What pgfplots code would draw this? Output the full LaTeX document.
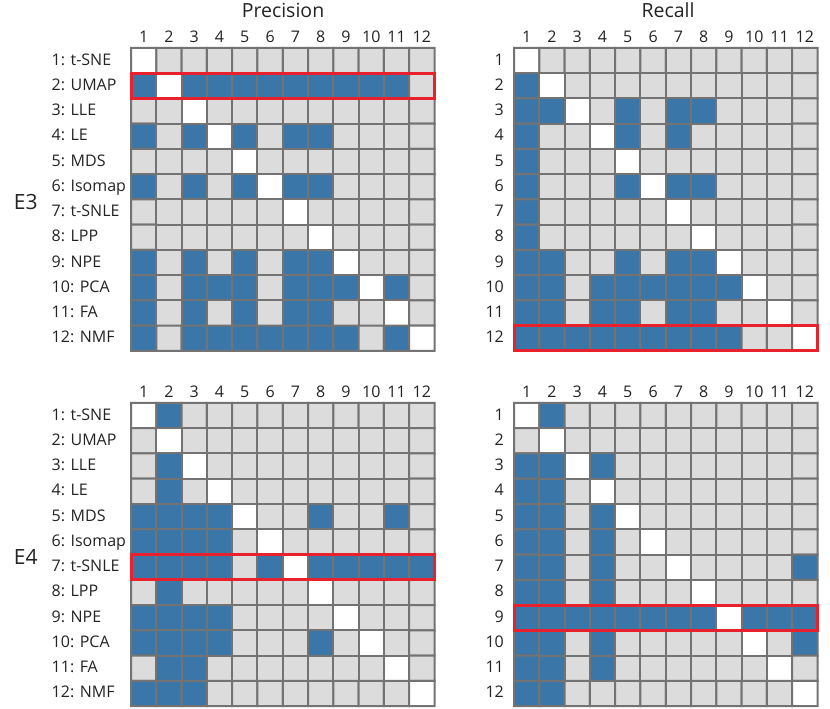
\documentclass[border=0pt]{standalone}
\usepackage{fontspec}
\setmainfont{Open Sans}
\usepackage{pgfplots}
\usepackage{pgfplotstable}
\pgfplotsset{compat=1.18}
\definecolor{cellblue}{RGB}{59,118,168}
\definecolor{cellgray}{RGB}{220,220,220}
\definecolor{edgegray}{RGB}{115,115,115}
\definecolor{boxred}{RGB}{232,33,44}
\definecolor{txt}{RGB}{35,35,35}

\pgfplotstableread[row sep=\\]{
x y c\\
1 1 2\\ 2 1 0\\ 3 1 0\\ 4 1 0\\ 5 1 0\\ 6 1 0\\ 7 1 0\\ 8 1 0\\ 9 1 0\\ 10 1 0\\ 11 1 0\\ 12 1 0\\
1 2 1\\ 2 2 2\\ 3 2 1\\ 4 2 1\\ 5 2 1\\ 6 2 1\\ 7 2 1\\ 8 2 1\\ 9 2 1\\ 10 2 1\\ 11 2 1\\ 12 2 0\\
1 3 0\\ 2 3 0\\ 3 3 2\\ 4 3 0\\ 5 3 0\\ 6 3 0\\ 7 3 0\\ 8 3 0\\ 9 3 0\\ 10 3 0\\ 11 3 0\\ 12 3 0\\
1 4 1\\ 2 4 0\\ 3 4 1\\ 4 4 2\\ 5 4 1\\ 6 4 0\\ 7 4 1\\ 8 4 1\\ 9 4 0\\ 10 4 0\\ 11 4 0\\ 12 4 0\\
1 5 0\\ 2 5 0\\ 3 5 0\\ 4 5 0\\ 5 5 2\\ 6 5 0\\ 7 5 0\\ 8 5 0\\ 9 5 0\\ 10 5 0\\ 11 5 0\\ 12 5 0\\
1 6 1\\ 2 6 0\\ 3 6 1\\ 4 6 0\\ 5 6 1\\ 6 6 2\\ 7 6 1\\ 8 6 1\\ 9 6 0\\ 10 6 0\\ 11 6 0\\ 12 6 0\\
1 7 0\\ 2 7 0\\ 3 7 0\\ 4 7 0\\ 5 7 0\\ 6 7 0\\ 7 7 2\\ 8 7 0\\ 9 7 0\\ 10 7 0\\ 11 7 0\\ 12 7 0\\
1 8 0\\ 2 8 0\\ 3 8 0\\ 4 8 0\\ 5 8 0\\ 6 8 0\\ 7 8 0\\ 8 8 2\\ 9 8 0\\ 10 8 0\\ 11 8 0\\ 12 8 0\\
1 9 1\\ 2 9 0\\ 3 9 1\\ 4 9 0\\ 5 9 1\\ 6 9 0\\ 7 9 1\\ 8 9 1\\ 9 9 2\\ 10 9 0\\ 11 9 0\\ 12 9 0\\
1 10 1\\ 2 10 0\\ 3 10 1\\ 4 10 1\\ 5 10 1\\ 6 10 0\\ 7 10 1\\ 8 10 1\\ 9 10 1\\ 10 10 2\\ 11 10 1\\ 12 10 0\\
1 11 1\\ 2 11 0\\ 3 11 1\\ 4 11 0\\ 5 11 1\\ 6 11 0\\ 7 11 1\\ 8 11 1\\ 9 11 0\\ 10 11 0\\ 11 11 2\\ 12 11 0\\
1 12 1\\ 2 12 0\\ 3 12 1\\ 4 12 1\\ 5 12 1\\ 6 12 1\\ 7 12 1\\ 8 12 1\\ 9 12 1\\ 10 12 0\\ 11 12 1\\ 12 12 2\\
}\tA

\pgfplotstableread[row sep=\\]{
x y c\\
1 1 2\\ 2 1 0\\ 3 1 0\\ 4 1 0\\ 5 1 0\\ 6 1 0\\ 7 1 0\\ 8 1 0\\ 9 1 0\\ 10 1 0\\ 11 1 0\\ 12 1 0\\
1 2 1\\ 2 2 2\\ 3 2 0\\ 4 2 0\\ 5 2 0\\ 6 2 0\\ 7 2 0\\ 8 2 0\\ 9 2 0\\ 10 2 0\\ 11 2 0\\ 12 2 0\\
1 3 1\\ 2 3 1\\ 3 3 2\\ 4 3 0\\ 5 3 1\\ 6 3 0\\ 7 3 1\\ 8 3 1\\ 9 3 0\\ 10 3 0\\ 11 3 0\\ 12 3 0\\
1 4 1\\ 2 4 0\\ 3 4 0\\ 4 4 2\\ 5 4 1\\ 6 4 0\\ 7 4 1\\ 8 4 0\\ 9 4 0\\ 10 4 0\\ 11 4 0\\ 12 4 0\\
1 5 1\\ 2 5 0\\ 3 5 0\\ 4 5 0\\ 5 5 2\\ 6 5 0\\ 7 5 0\\ 8 5 0\\ 9 5 0\\ 10 5 0\\ 11 5 0\\ 12 5 0\\
1 6 1\\ 2 6 0\\ 3 6 0\\ 4 6 0\\ 5 6 1\\ 6 6 2\\ 7 6 1\\ 8 6 1\\ 9 6 0\\ 10 6 0\\ 11 6 0\\ 12 6 0\\
1 7 1\\ 2 7 0\\ 3 7 0\\ 4 7 0\\ 5 7 0\\ 6 7 0\\ 7 7 2\\ 8 7 0\\ 9 7 0\\ 10 7 0\\ 11 7 0\\ 12 7 0\\
1 8 1\\ 2 8 0\\ 3 8 0\\ 4 8 0\\ 5 8 0\\ 6 8 0\\ 7 8 0\\ 8 8 2\\ 9 8 0\\ 10 8 0\\ 11 8 0\\ 12 8 0\\
1 9 1\\ 2 9 1\\ 3 9 0\\ 4 9 0\\ 5 9 1\\ 6 9 0\\ 7 9 1\\ 8 9 1\\ 9 9 2\\ 10 9 0\\ 11 9 0\\ 12 9 0\\
1 10 1\\ 2 10 1\\ 3 10 0\\ 4 10 1\\ 5 10 1\\ 6 10 1\\ 7 10 1\\ 8 10 1\\ 9 10 1\\ 10 10 2\\ 11 10 0\\ 12 10 0\\
1 11 1\\ 2 11 1\\ 3 11 0\\ 4 11 1\\ 5 11 1\\ 6 11 0\\ 7 11 1\\ 8 11 1\\ 9 11 0\\ 10 11 0\\ 11 11 2\\ 12 11 0\\
1 12 1\\ 2 12 1\\ 3 12 1\\ 4 12 1\\ 5 12 1\\ 6 12 1\\ 7 12 1\\ 8 12 1\\ 9 12 1\\ 10 12 0\\ 11 12 0\\ 12 12 2\\
}\tB

\pgfplotstableread[row sep=\\]{
x y c\\
1 1 2\\ 2 1 1\\ 3 1 0\\ 4 1 0\\ 5 1 0\\ 6 1 0\\ 7 1 0\\ 8 1 0\\ 9 1 0\\ 10 1 0\\ 11 1 0\\ 12 1 0\\
1 2 0\\ 2 2 2\\ 3 2 0\\ 4 2 0\\ 5 2 0\\ 6 2 0\\ 7 2 0\\ 8 2 0\\ 9 2 0\\ 10 2 0\\ 11 2 0\\ 12 2 0\\
1 3 0\\ 2 3 1\\ 3 3 2\\ 4 3 0\\ 5 3 0\\ 6 3 0\\ 7 3 0\\ 8 3 0\\ 9 3 0\\ 10 3 0\\ 11 3 0\\ 12 3 0\\
1 4 0\\ 2 4 1\\ 3 4 0\\ 4 4 2\\ 5 4 0\\ 6 4 0\\ 7 4 0\\ 8 4 0\\ 9 4 0\\ 10 4 0\\ 11 4 0\\ 12 4 0\\
1 5 1\\ 2 5 1\\ 3 5 1\\ 4 5 1\\ 5 5 2\\ 6 5 0\\ 7 5 0\\ 8 5 1\\ 9 5 0\\ 10 5 0\\ 11 5 1\\ 12 5 0\\
1 6 1\\ 2 6 1\\ 3 6 1\\ 4 6 1\\ 5 6 0\\ 6 6 2\\ 7 6 0\\ 8 6 0\\ 9 6 0\\ 10 6 0\\ 11 6 0\\ 12 6 0\\
1 7 1\\ 2 7 1\\ 3 7 1\\ 4 7 1\\ 5 7 0\\ 6 7 1\\ 7 7 2\\ 8 7 1\\ 9 7 1\\ 10 7 1\\ 11 7 1\\ 12 7 1\\
1 8 0\\ 2 8 1\\ 3 8 0\\ 4 8 0\\ 5 8 0\\ 6 8 0\\ 7 8 0\\ 8 8 2\\ 9 8 0\\ 10 8 0\\ 11 8 0\\ 12 8 0\\
1 9 1\\ 2 9 1\\ 3 9 1\\ 4 9 1\\ 5 9 0\\ 6 9 0\\ 7 9 0\\ 8 9 0\\ 9 9 2\\ 10 9 0\\ 11 9 0\\ 12 9 0\\
1 10 1\\ 2 10 1\\ 3 10 1\\ 4 10 1\\ 5 10 0\\ 6 10 0\\ 7 10 0\\ 8 10 1\\ 9 10 0\\ 10 10 2\\ 11 10 0\\ 12 10 0\\
1 11 0\\ 2 11 1\\ 3 11 1\\ 4 11 0\\ 5 11 0\\ 6 11 0\\ 7 11 0\\ 8 11 0\\ 9 11 0\\ 10 11 0\\ 11 11 2\\ 12 11 0\\
1 12 1\\ 2 12 1\\ 3 12 1\\ 4 12 0\\ 5 12 0\\ 6 12 0\\ 7 12 0\\ 8 12 0\\ 9 12 0\\ 10 12 0\\ 11 12 0\\ 12 12 2\\
}\tC

\pgfplotstableread[row sep=\\]{
x y c\\
1 1 2\\ 2 1 1\\ 3 1 0\\ 4 1 0\\ 5 1 0\\ 6 1 0\\ 7 1 0\\ 8 1 0\\ 9 1 0\\ 10 1 0\\ 11 1 0\\ 12 1 0\\
1 2 0\\ 2 2 2\\ 3 2 0\\ 4 2 0\\ 5 2 0\\ 6 2 0\\ 7 2 0\\ 8 2 0\\ 9 2 0\\ 10 2 0\\ 11 2 0\\ 12 2 0\\
1 3 1\\ 2 3 1\\ 3 3 2\\ 4 3 1\\ 5 3 0\\ 6 3 0\\ 7 3 0\\ 8 3 0\\ 9 3 0\\ 10 3 0\\ 11 3 0\\ 12 3 0\\
1 4 1\\ 2 4 1\\ 3 4 0\\ 4 4 2\\ 5 4 0\\ 6 4 0\\ 7 4 0\\ 8 4 0\\ 9 4 0\\ 10 4 0\\ 11 4 0\\ 12 4 0\\
1 5 1\\ 2 5 1\\ 3 5 0\\ 4 5 1\\ 5 5 2\\ 6 5 0\\ 7 5 0\\ 8 5 0\\ 9 5 0\\ 10 5 0\\ 11 5 0\\ 12 5 0\\
1 6 1\\ 2 6 1\\ 3 6 0\\ 4 6 1\\ 5 6 0\\ 6 6 2\\ 7 6 0\\ 8 6 0\\ 9 6 0\\ 10 6 0\\ 11 6 0\\ 12 6 0\\
1 7 1\\ 2 7 1\\ 3 7 0\\ 4 7 1\\ 5 7 0\\ 6 7 0\\ 7 7 2\\ 8 7 0\\ 9 7 0\\ 10 7 0\\ 11 7 0\\ 12 7 1\\
1 8 1\\ 2 8 1\\ 3 8 0\\ 4 8 1\\ 5 8 0\\ 6 8 0\\ 7 8 0\\ 8 8 2\\ 9 8 0\\ 10 8 0\\ 11 8 0\\ 12 8 0\\
1 9 1\\ 2 9 1\\ 3 9 1\\ 4 9 1\\ 5 9 1\\ 6 9 1\\ 7 9 1\\ 8 9 1\\ 9 9 2\\ 10 9 1\\ 11 9 1\\ 12 9 1\\
1 10 1\\ 2 10 1\\ 3 10 0\\ 4 10 1\\ 5 10 0\\ 6 10 0\\ 7 10 0\\ 8 10 0\\ 9 10 0\\ 10 10 2\\ 11 10 0\\ 12 10 1\\
1 11 1\\ 2 11 1\\ 3 11 0\\ 4 11 1\\ 5 11 0\\ 6 11 0\\ 7 11 0\\ 8 11 0\\ 9 11 0\\ 10 11 0\\ 11 11 2\\ 12 11 0\\
1 12 1\\ 2 12 1\\ 3 12 0\\ 4 12 0\\ 5 12 0\\ 6 12 0\\ 7 12 0\\ 8 12 0\\ 9 12 0\\ 10 12 0\\ 11 12 0\\ 12 12 2\\
}\tD

\pgfplotsset{
  hm/.style={
    scale only axis, width=303.5pt, height=303pt,
    xmin=0.5, xmax=12.5, ymin=0.5, ymax=12.5, y dir=reverse,
    enlargelimits=false, clip=false,
    xtick={1,...,12}, ytick={1,...,12},
    xticklabel pos=right,
    axis line style={draw=none},
    major tick length=0pt,
    tick label style={font=\fontsize{16pt}{19pt}\selectfont, text=txt},
    /pgf/number format/assume math mode=true,
    xticklabel style={anchor=base, yshift=5pt},
    colormap={cats}{rgb255=(220,220,220) rgb255=(59,118,168) rgb255=(255,255,255)},
    colormap access=direct,
  },
  hmleft/.style={
    yticklabels={1: t-SNE,2: UMAP,3: LLE,4: LE,5: MDS,6: Isomap,7: t-SNLE,8: LPP,9: NPE,10: PCA,11: FA,12: NMF},
    yticklabel style={anchor=base west, inner xsep=0pt, xshift=-79.5pt, yshift=-4.5pt},
  },
  hmright/.style={
    yticklabel style={anchor=base east, inner xsep=0pt, xshift=-10pt, yshift=-4.5pt},
  },
  cells/.style={matrix plot*, mesh/cols=12, point meta=explicit, draw=edgegray, line width=2pt},
}

\begin{document}
\begin{tikzpicture}
\useasboundingbox (0pt,0pt) rectangle (830pt,709pt);

\begin{axis}[hm, hmleft, at={(131pt,358pt)}, anchor=south west]
\addplot[cells] table[x=x, y=y, meta=c] {\tA};
\draw[boxred, line width=3pt] (axis cs:0.5,1.5) rectangle (axis cs:12.5,2.5);
\end{axis}

\begin{axis}[hm, hmright, at={(514pt,358pt)}, anchor=south west]
\addplot[cells] table[x=x, y=y, meta=c] {\tB};
\draw[boxred, line width=3pt] (axis cs:0.5,11.5) rectangle (axis cs:12.5,12.5);
\end{axis}

\begin{axis}[hm, hmleft, at={(131pt,3pt)}, anchor=south west]
\addplot[cells] table[x=x, y=y, meta=c] {\tC};
\draw[boxred, line width=3pt] (axis cs:0.5,6.5) rectangle (axis cs:12.5,7.5);
\end{axis}

\begin{axis}[hm, hmright, at={(514pt,3pt)}, anchor=south west]
\addplot[cells] table[x=x, y=y, meta=c] {\tD};
\draw[boxred, line width=3pt] (axis cs:0.5,8.5) rectangle (axis cs:12.5,9.5);
\end{axis}

\node[anchor=base, inner sep=0pt, text=txt, font=\fontsize{19.5pt}{23pt}\selectfont] at (283pt,691.7pt) {Precision};
\node[anchor=base, inner sep=0pt, text=txt, font=\fontsize{19.5pt}{23pt}\selectfont] at (668pt,691.7pt) {Recall};
\node[anchor=base, inner sep=0pt, text=txt, font=\fontsize{21pt}{25pt}\selectfont] at (25.8pt,499pt) {E3};
\node[anchor=base, inner sep=0pt, text=txt, font=\fontsize{21pt}{25pt}\selectfont] at (25.8pt,144pt) {E4};
\end{tikzpicture}
\end{document}
